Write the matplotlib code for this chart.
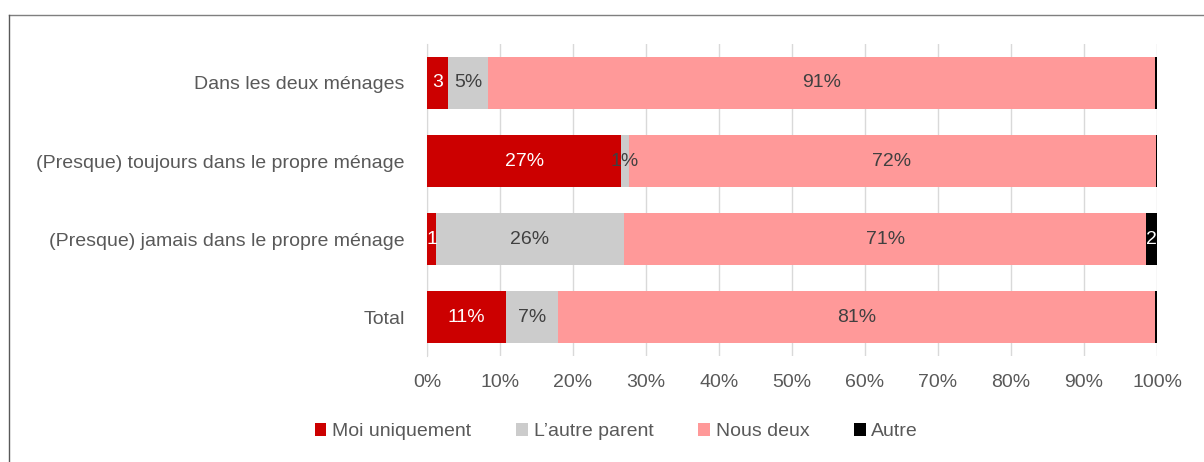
import matplotlib.pyplot as plt
from matplotlib.lines import Line2D
import numpy as np

plt.rcParams["font.family"] = ["Liberation Sans", "DejaVu Sans"]

categories = ["Dans les deux ménages",
              "(Presque) toujours dans le propre ménage",
              "(Presque) jamais dans le propre ménage",
              "Total"]
series = ["Moi uniquement", "L’autre parent", "Nous deux", "Autre"]
moi = [2.9, 26.6, 1.2, 10.8]
autre_parent = [5.4, 1.0, 25.8, 7.1]
nous_deux = [91.4, 72.2, 71.5, 81.8]
autre = [0.3, 0.2, 1.5, 0.3]
labels = [["3", "27%", "1", "11%"],
          ["5%", "1%", "26%", "7%"],
          ["91%", "72%", "71%", "81%"],
          ["", "", "2", ""]]
colors = ["#cc0000", "#cccccc", "#ff9999", "#000000"]
text_colors = ["white", "#404040", "#404040", "white"]

fig = plt.figure(figsize=(12.04, 4.62), dpi=100)
ax = fig.add_axes([0.3547, 0.229, 0.6063, 0.676])

# outer frame: only top and left edges are visible in the crop
W, H = 1204, 462
fig.lines.append(Line2D([8.5 / W, 1], [1 - 14.5 / H, 1 - 14.5 / H], transform=fig.transFigure,
                        color="#7f7f7f", linewidth=1))
fig.lines.append(Line2D([8.5 / W, 8.5 / W], [0, 1 - 14.5 / H], transform=fig.transFigure,
                        color="#595959", linewidth=1))

y = np.arange(len(categories))
left = np.zeros(len(categories))
for i, vals in enumerate([moi, autre_parent, nous_deux, autre]):
    vals = np.array(vals)
    ax.barh(y, vals, left=left, height=0.67, color=colors[i], label=series[i], zorder=3)
    for j in range(len(categories)):
        if labels[i][j]:
            ax.text(left[j] + vals[j] / 2, y[j], labels[i][j], ha="center", va="center",
                    color=text_colors[i], fontsize=14, zorder=4)
    left += vals

ax.set_yticks(y)
ax.set_yticklabels(categories)
ax.set_ylim(3.5, -0.5)
ax.set_xlim(0, 100)
ax.set_xticks(np.arange(0, 101, 10))
ax.set_xticklabels([f"{v}%" for v in range(0, 101, 10)])
ax.tick_params(length=0, labelsize=14, colors="#595959")
ax.tick_params(axis="x", pad=13)
ax.tick_params(axis="y", pad=16)
ax.grid(axis="x", color="#d9d9d9", linewidth=1, zorder=0)
for s in ["top", "right", "bottom"]:
    ax.spines[s].set_visible(False)
ax.spines["left"].set_color("#d9d9d9")

fig.legend(loc="center", bbox_to_anchor=(0.512, 0.065), ncol=4, frameon=False,
           fontsize=14, handlelength=0.6, handleheight=0.6, handletextpad=0.3,
           columnspacing=2.3, labelcolor="#595959")

fig.savefig("out.png", dpi=100)
